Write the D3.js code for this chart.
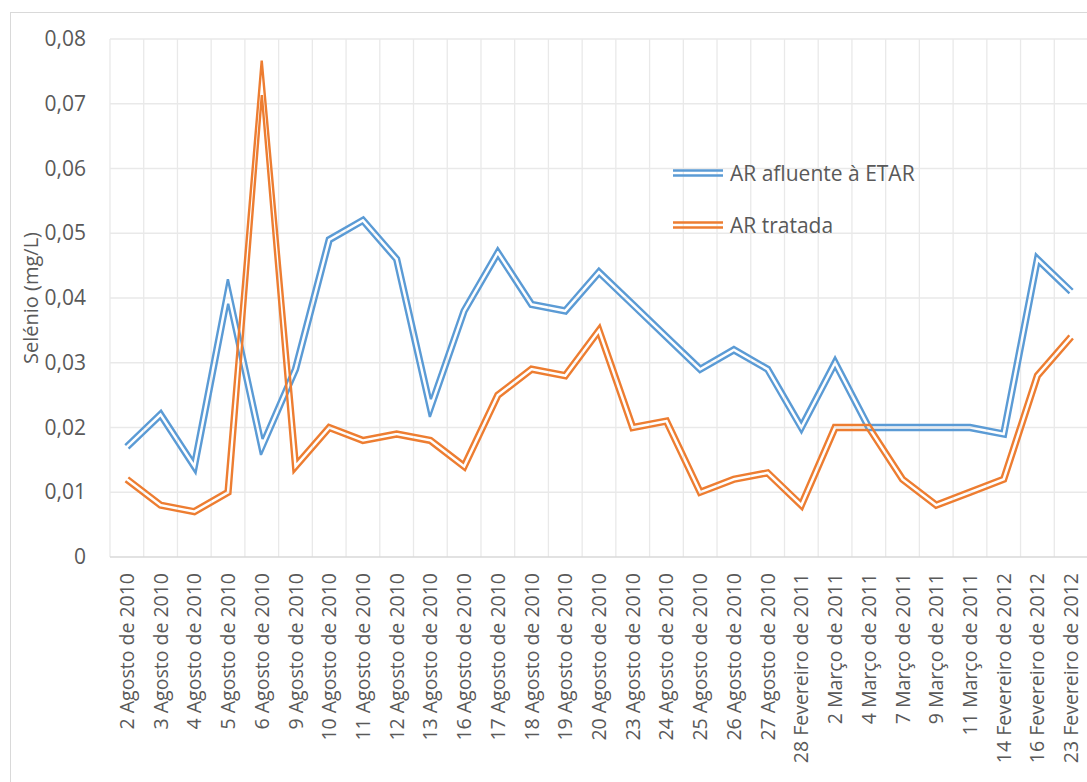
<!DOCTYPE html>
<html>
<head>
<meta charset="utf-8">
<script src="https://cdn.jsdelivr.net/npm/d3@7"></script>
<style>
  html, body { margin: 0; padding: 0; background: #fff; }
  svg { display: block; }
  text { font-family: "Open Sans", "Noto Sans", sans-serif; fill: #595959; }
</style>
</head>
<body>
<svg id="chart" width="1087" height="782"></svg>
<script>
// Dates of the sampling campaigns
const categories = [
  "2 Agosto de 2010", "3 Agosto de 2010", "4 Agosto de 2010", "5 Agosto de 2010",
  "6 Agosto de 2010", "9 Agosto de 2010", "10 Agosto de 2010", "11 Agosto de 2010",
  "12 Agosto de 2010", "13 Agosto de 2010", "16 Agosto de 2010", "17 Agosto de 2010",
  "18 Agosto de 2010", "19 Agosto de 2010", "20 Agosto de 2010", "23 Agosto de 2010",
  "24 Agosto de 2010", "25 Agosto de 2010", "26 Agosto de 2010", "27 Agosto de 2010",
  "28 Fevereiro de 2011", "2 Março de 2011", "4 Março de 2011", "7 Março de 2011",
  "9 Março de 2011", "11 Março de 2011", "14 Fevereiro de 2012", "16 Fevereiro de 2012",
  "23 Fevereiro de 2012"
];

// Selénio (mg/L) in the influent wastewater
const afluente = [
  0.017, 0.022, 0.014, 0.041, 0.017, 0.029, 0.049, 0.052, 0.046, 0.023,
  0.038, 0.047, 0.039, 0.038, 0.044, 0.039, 0.034, 0.029, 0.032, 0.029,
  0.020, 0.030, 0.020, 0.020, 0.020, 0.020, 0.019, 0.046, 0.041
];

// Selénio (mg/L) in the treated wastewater
const tratada = [
  0.012, 0.008, 0.007, 0.010, 0.074, 0.014, 0.020, 0.018, 0.019, 0.018,
  0.014, 0.025, 0.029, 0.028, 0.035, 0.020, 0.021, 0.010, 0.012, 0.013,
  0.008, 0.020, 0.020, 0.012, 0.008, 0.010, 0.012, 0.028, 0.034
];

const yTicks = [0, 0.01, 0.02, 0.03, 0.04, 0.05, 0.06, 0.07, 0.08];

const seriesNames = ["AR afluente à ETAR", "AR tratada"];
const seriesColors = ["#5B9BD5", "#ED7D31"];

const svg = d3.select("#chart");
const plot = { left: 110, right: 1088, top: 39, bottom: 557 };

// Outer chart frame
svg.append("rect")
  .attr("x", 10.5).attr("y", 12.5)
  .attr("width", 1100).attr("height", 800)
  .attr("fill", "#fff").attr("stroke", "#d9d9d9").attr("stroke-width", 1);

const x = d3.scaleBand().domain(categories).range([plot.left, plot.right]).padding(0);
const y = d3.scaleLinear().domain([0, 0.08]).range([plot.bottom, plot.top]);

// Horizontal gridlines
svg.append("g").selectAll("line").data(yTicks.filter(d => d > 0)).join("line")
  .attr("x1", plot.left).attr("x2", plot.right)
  .attr("y1", d => y(d)).attr("y2", d => y(d))
  .attr("stroke", "#e9e9e9").attr("stroke-width", 1.3);

// Vertical gridlines at category boundaries
svg.append("g").selectAll("line").data(categories).join("line")
  .attr("x1", d => x(d)).attr("x2", d => x(d))
  .attr("y1", plot.top).attr("y2", plot.bottom)
  .attr("stroke", "#e9e9e9").attr("stroke-width", 1.3);

// Category axis line
svg.append("line")
  .attr("x1", plot.left).attr("x2", plot.right)
  .attr("y1", y(0)).attr("y2", y(0))
  .attr("stroke", "#d9d9d9").attr("stroke-width", 1.5);

// Value axis
const yAxis = d3.axisLeft(y).tickValues(yTicks).tickSize(0).tickPadding(24)
  .tickFormat(d => d === 0 ? "0" : d3.format(".2f")(d).replace(".", ","));
const gy = svg.append("g").attr("transform", `translate(${plot.left},0)`).call(yAxis);
gy.select(".domain").remove();
gy.selectAll("text").style("font-size", "21px").attr("fill", "#595959")
  .style("font-family", '"Open Sans", sans-serif');

// Category axis labels (rotated)
const xAxis = d3.axisBottom(x).tickSize(0).tickPadding(0);
const gx = svg.append("g").attr("transform", `translate(0,${plot.bottom})`).call(xAxis);
gx.select(".domain").remove();
gx.selectAll("text")
  .style("font-size", "19.5px").attr("fill", "#595959")
  .style("font-family", '"Open Sans", sans-serif')
  .attr("text-anchor", "end")
  .attr("transform", "rotate(-90)")
  .attr("x", -16).attr("y", 0).attr("dy", "0.36em");

// Axis title
svg.append("text")
  .attr("transform", `translate(31,298) rotate(-90)`)
  .attr("text-anchor", "middle").attr("dy", "0.35em")
  .style("font-size", "20px")
  .text("Selénio (mg/L)");

// Double (compound) line: two parallel strokes offset on each side of the path
function offsetPolyline(pts, d, maxScale) {
  const n = pts.length;
  const out = [];
  const normal = (a, b) => {
    const dx = b[0] - a[0], dy = b[1] - a[1];
    const len = Math.hypot(dx, dy) || 1;
    return [-dy / len, dx / len];
  };
  for (let i = 0; i < n; i++) {
    let nx, ny, k = d;
    if (i === 0) { [nx, ny] = normal(pts[0], pts[1]); }
    else if (i === n - 1) { [nx, ny] = normal(pts[n - 2], pts[n - 1]); }
    else {
      const n1 = normal(pts[i - 1], pts[i]);
      const n2 = normal(pts[i], pts[i + 1]);
      let mx = n1[0] + n2[0], my = n1[1] + n2[1];
      const ml = Math.hypot(mx, my) || 1;
      mx /= ml; my /= ml;
      const cos = mx * n1[0] + my * n1[1];
      k = Math.min(d / Math.max(cos, 1e-6), Math.abs(d) * maxScale) * Math.sign(d) * (d < 0 ? -1 : 1);
      k = d < 0 ? -Math.min(-d / Math.max(cos, 1e-6), -d * maxScale) : Math.min(d / Math.max(cos, 1e-6), d * maxScale);
      nx = mx; ny = my;
    }
    out.push([pts[i][0] + nx * k, pts[i][1] + ny * k]);
  }
  return out;
}

const lineGen = d3.line().curve(d3.curveLinear);

function doubleLine(g, pts, color) {
  [-2.45, 2.45].forEach(off => {
    g.append("path")
      .attr("d", lineGen(offsetPolyline(pts, off, 7)))
      .attr("fill", "none")
      .attr("stroke", color)
      .attr("stroke-width", 2.4)
      .attr("stroke-linejoin", "miter")
      .attr("stroke-miterlimit", 3);
  });
}

const cx = d => x(d) + x.bandwidth() / 2;
const seriesData = [afluente, tratada];
const gLines = svg.append("g");
seriesData.forEach((vals, si) => {
  const pts = vals.map((v, i) => [cx(categories[i]), y(v)]);
  doubleLine(gLines, pts, seriesColors[si]);
});

// Legend
const legend = svg.append("g");
const legendY = [173, 225];
seriesNames.forEach((name, i) => {
  doubleLine(legend, [[673, legendY[i]], [723, legendY[i]]], seriesColors[i]);
  legend.append("text")
    .attr("x", 730).attr("y", legendY[i]).attr("dy", "0.36em")
    .style("font-size", "21px")
    .text(name);
});
</script>
</body>
</html>
